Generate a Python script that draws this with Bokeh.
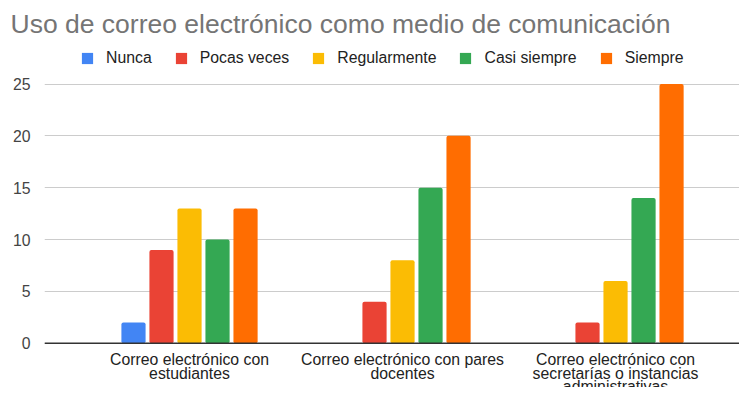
from bokeh.plotting import figure
from bokeh.models import ColumnDataSource, Range1d, FixedTicker, Legend, LegendItem, Span
from bokeh.core.properties import value
from bokeh.transform import dodge
from bokeh.embed import file_html
from bokeh.resources import INLINE

categories = [
    "Correo electrónico con\nestudiantes",
    "Correo electrónico con pares\ndocentes",
    "Correo electrónico con\nsecretarías o instancias\nadministrativas",
]
series = ["Nunca", "Pocas veces", "Regularmente", "Casi siempre", "Siempre"]
nunca = [2, 0, 0]
pocas_veces = [9, 4, 2]
regularmente = [13, 8, 6]
casi_siempre = [10, 15, 14]
siempre = [13, 20, 25]
y_ticks = [0, 5, 10, 15, 20, 25]
colors = ["#4285F4", "#EA4335", "#FBBC04", "#34A853", "#FF6D01"]

values = [nunca, pocas_veces, regularmente, casi_siempre, siempre]
cols = ["nunca", "pocas", "regular", "casi", "siempre"]
data = {"x": list(range(len(categories))), "base": [0] * len(categories), "label": categories}
for c, v in zip(cols, values):
    data[c] = v
source = ColumnDataSource(data)

FONT = "Liberation Sans"

p = figure(
    width=739, height=387,
    output_backend="svg", toolbar_location=None,
    x_axis_location=None,
    x_range=Range1d(-0.6808, 2.582), y_range=Range1d(-4.273, 29.196),
    min_border_left=44, min_border_right=0, min_border_top=40, min_border_bottom=0,
    title="Uso de correo electrónico como medio de comunicación",
)
p.outline_line_color = None

p.title.text_font = FONT
p.title.text_font_size = "26.5px"
p.title.text_font_style = "normal"
p.title.text_color = "#757575"
p.title.align = "left"
p.title.offset = -34
p.title.standoff = 4

pitch = 0.1315
width = 0.1135
renderers = []
for i, (c, col) in enumerate(zip(cols, colors)):
    r = p.vbar(x=dodge("x", (i - 2) * pitch, range=p.x_range), top=c, width=width,
               source=source, fill_color=col, line_color=None, border_radius=2)
    renderers.append(r)

p.xgrid.visible = False
p.ygrid.ticker = FixedTicker(ticks=y_ticks)
p.ygrid.grid_line_color = "#cccccc"
p.ygrid.grid_line_width = 1

p.add_layout(Span(location=0, dimension="width", line_color="#333333", line_width=1.5))

p.text(x="x", y="base", text="label", source=source,
       text_align="center", text_baseline="top", y_offset=8,
       text_font=value(FONT), text_font_size="15.8px", text_color="#222222",
       text_line_height=0.8)

ya = p.yaxis[0]
ya.ticker = FixedTicker(ticks=y_ticks)
ya.axis_line_color = None
ya.major_tick_line_color = None
ya.minor_tick_line_color = None
ya.major_label_standoff = 8
ya.major_label_text_font = FONT
ya.major_label_text_font_size = "15.8px"
ya.major_label_text_color = "#444444"

legend = Legend(
    items=[LegendItem(label=s, renderers=[r]) for s, r in zip(series, renderers)],
    orientation="horizontal", location=(36, 320),
    glyph_width=14, glyph_height=14, label_height=14, label_standoff=12, spacing=22,
    padding=0, margin=0, border_line_color=None, background_fill_alpha=0,
    label_text_font=FONT, label_text_font_size="15.8px", label_text_color="#222222",
)
p.add_layout(legend)

open("out.html", "w").write(file_html(p, INLINE))
